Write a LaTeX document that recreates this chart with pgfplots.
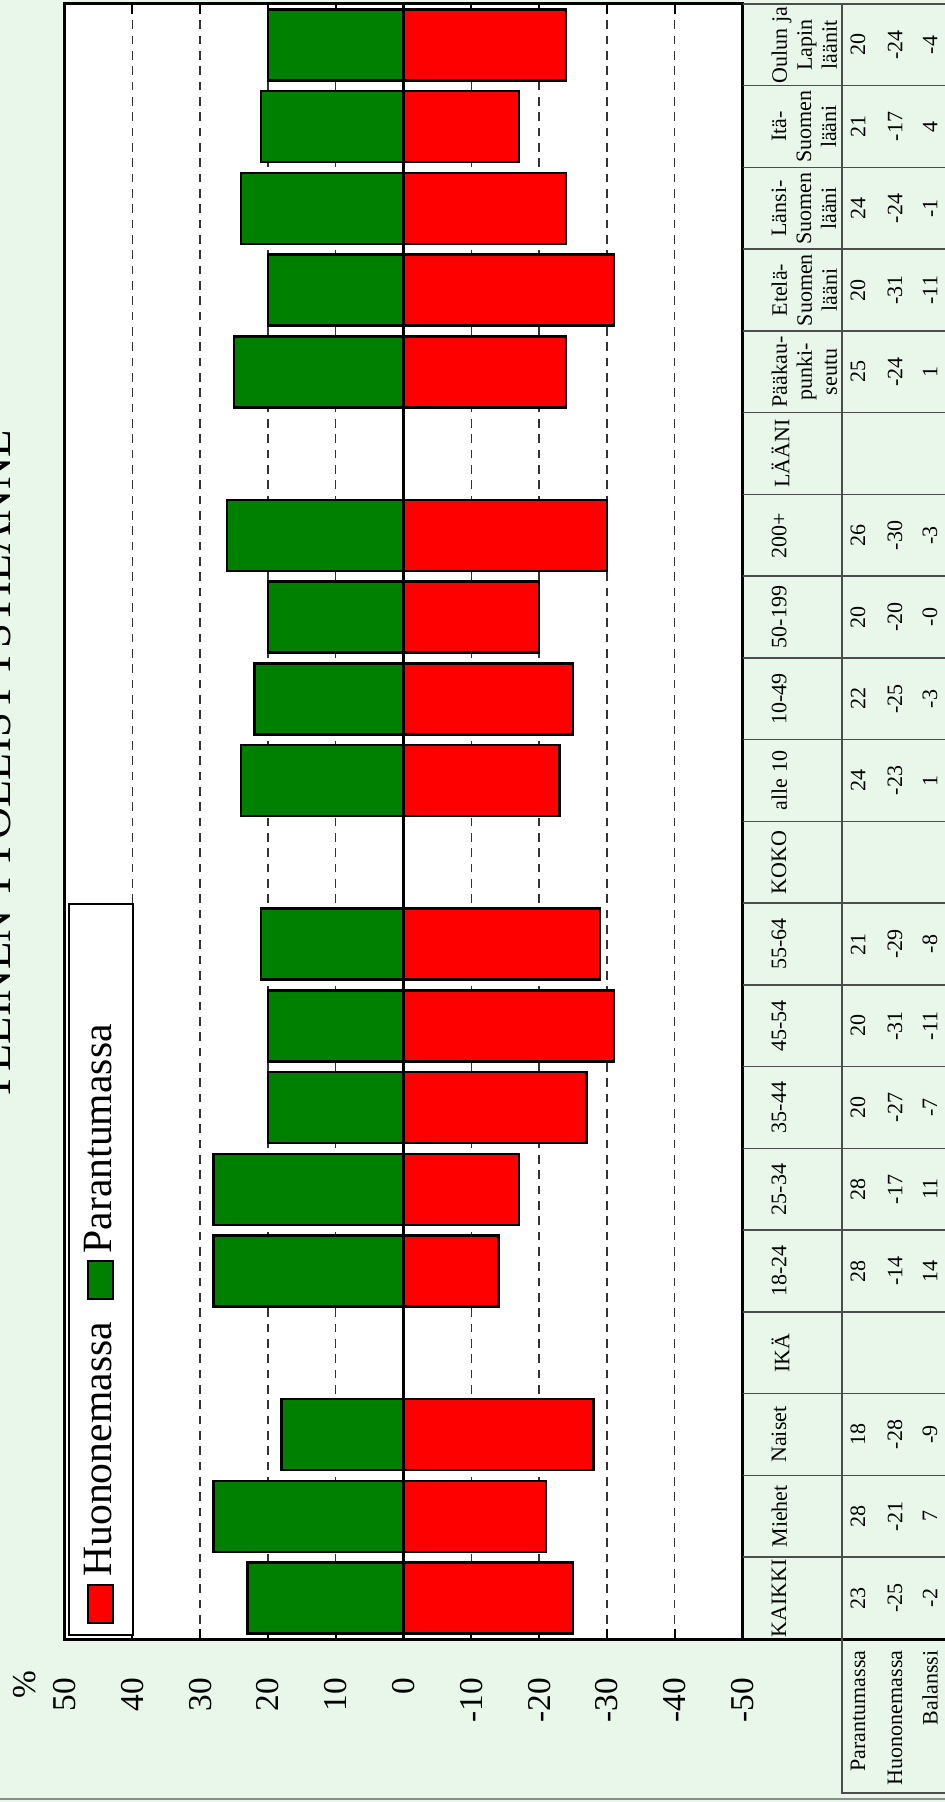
\documentclass[border=0pt]{standalone}
\usepackage{fontspec}
\setmainfont{Liberation Serif}
\usepackage{pgfplots}
\pgfplotsset{compat=1.18}
\usepackage{pgfplotstable}

\definecolor{bgcol}{RGB}{232,247,234}
\definecolor{barred}{RGB}{255,0,0}
\definecolor{bargreen}{RGB}{0,128,0}
\newcommand\tabfont{\fontsize{6.6}{7.5}\selectfont}
\newcommand\legfont{\fontsize{12.5}{14}\selectfont}

% c = category index from the bottom (KAIKKI = 0); 3, 9, 14 are headers without bars
\pgfplotstableread{
c  par  huo
0  23  -25
1  28  -21
2  18  -28
4  28  -14
5  28  -17
6  20  -27
7  20  -31
8  21  -29
10 24  -23
11 22  -25
12 20  -20
13 26  -30
15 25  -24
16 20  -31
17 24  -24
18 21  -17
19 20  -24
}\saldot

\begin{document}
\begin{tikzpicture}
% page background and the cut-off title
\fill[bgcol] (-19.35pt,-48.9pt) rectangle (264.15pt,491.7pt);
\node[rotate=90, anchor=base, font=\fontsize{13.4}{16}\selectfont] at (-16.05pt,261.6pt) {YLEINEN TYÖLLISYYSTILANNE};
\node[rotate=90, font=\fontsize{10}{12}\selectfont] at (-11.85pt,-13.8pt) {\%};

\begin{axis}[
    at={(0pt,0pt)}, anchor=south west,
    scale only axis, width=203.4pt, height=490.5pt,
    x dir=reverse,
    xmin=-50, xmax=50, ymin=-0.5, ymax=19.5,
    xtick={-50,-40,...,50},
    xticklabels={-50,-40,-30,-20,-10,0,10,20,30,40,50},
    ytick=\empty,
    xmajorgrids,
    major grid style={black!80, line width=0.4pt, dash pattern=on 2.6pt off 2pt},
    extra x ticks={0}, extra x tick labels={},
    extra x tick style={major grid style={solid, black, line width=0.8pt}},
    axis background/.style={fill=white},
    axis line style={line width=0.9pt},
    tick style={black, line width=0.5pt},
    major tick length=3pt,
    xticklabel style={rotate=90, anchor=east, inner sep=0pt, font=\fontsize{10}{12}\selectfont},
    xticklabel shift=11.4pt,
    xbar, bar shift=0pt, bar width=21.3pt,
]
\addplot[fill=barred, draw=black, line width=0.7pt] table[x=huo, y=c] {\saldot};
\addplot[fill=bargreen, draw=black, line width=0.7pt] table[x=par, y=c] {\saldot};
\end{axis}

% legend (turned with the chart)
\draw[black, line width=0.6pt, fill=white] (1.44pt,1.2pt) rectangle (20.46pt,220.5pt);
\draw[black, line width=0.6pt, fill=barred] (7.14pt,4.8pt) rectangle (14.64pt,16.2pt);
\node[rotate=90, anchor=base west, inner sep=0pt, font=\legfont] at (14.2pt,18.5pt) {Huononemassa};
\draw[black, line width=0.6pt, fill=bargreen] (7.14pt,101.9pt) rectangle (14.64pt,113.3pt);
\node[rotate=90, anchor=base west, inner sep=0pt, font=\legfont] at (14.2pt,115.5pt) {Parantumassa};

% data table to the right of the plot
\foreach \i in {1,...,19}
  \draw[black!70, line width=0.45pt] (203.4pt,{\i*24.525pt}) -- (264.15pt,{\i*24.525pt});
\draw[black, line width=0.9pt] (203.4pt,0pt) -- (264.15pt,0pt);
\draw[black!70, line width=0.45pt] (203.4pt,490.5pt) -- (264.15pt,490.5pt);
\draw[black!70, line width=0.45pt] (233.25pt,490.5pt) -- (233.25pt,-46.2pt) -- (264.15pt,-46.2pt);
\draw[black!45, line width=0.5pt] (-19.35pt,-48pt) -- (264.15pt,-48pt);

\foreach \c/\lab in {0/KAIKKI, 1/Miehet, 2/Naiset, 3/IKÄ, 4/18-24, 5/25-34, 6/35-44,
    7/45-54, 8/55-64, 9/KOKO, 10/alle 10, 11/10-49, 12/50-199, 13/200+, 14/LÄÄNI,
    15/{Pääkau-\\punki-\\seutu}, 16/{Etelä-\\Suomen\\lääni}, 17/{Länsi-\\Suomen\\lääni},
    18/{Itä-\\Suomen\\lääni}, 19/{Oulun ja\\Lapin\\läänit}}
  \node[rotate=90, anchor=north, align=center, inner sep=0pt, font=\tabfont]
    at (211.95pt,{(\c+0.5)*24.525pt}) {\lab};

\foreach \c/\p/\h/\b in {0/23/-25/-2, 1/28/-21/7, 2/18/-28/-9, 4/28/-14/14, 5/28/-17/11,
    6/20/-27/-7, 7/20/-31/-11, 8/21/-29/-8, 10/24/-23/1, 11/22/-25/-3, 12/20/-20/-0,
    13/26/-30/-3, 15/25/-24/1, 16/20/-31/-11, 17/24/-24/-1, 18/21/-17/4, 19/20/-24/-4} {
  \node[rotate=90, inner sep=0pt, font=\tabfont] at (238.05pt,{(\c+0.5)*24.525pt}) {\p};
  \node[rotate=90, inner sep=0pt, font=\tabfont] at (249.15pt,{(\c+0.5)*24.525pt}) {\h};
  \node[rotate=90, inner sep=0pt, font=\tabfont] at (259.65pt,{(\c+0.5)*24.525pt}) {\b};
}
\node[rotate=90, anchor=east, inner sep=0pt, font=\tabfont] at (238.05pt,-3.3pt) {Parantumassa};
\node[rotate=90, anchor=east, inner sep=0pt, font=\tabfont] at (249.15pt,-3.3pt) {Huononemassa};
\node[rotate=90, anchor=east, inner sep=0pt, font=\tabfont] at (259.65pt,-3.3pt) {Balanssi};

\pgfresetboundingbox
\path[use as bounding box] (-19.35pt,-48.9pt) rectangle (264.15pt,491.7pt);
\end{tikzpicture}
\end{document}
